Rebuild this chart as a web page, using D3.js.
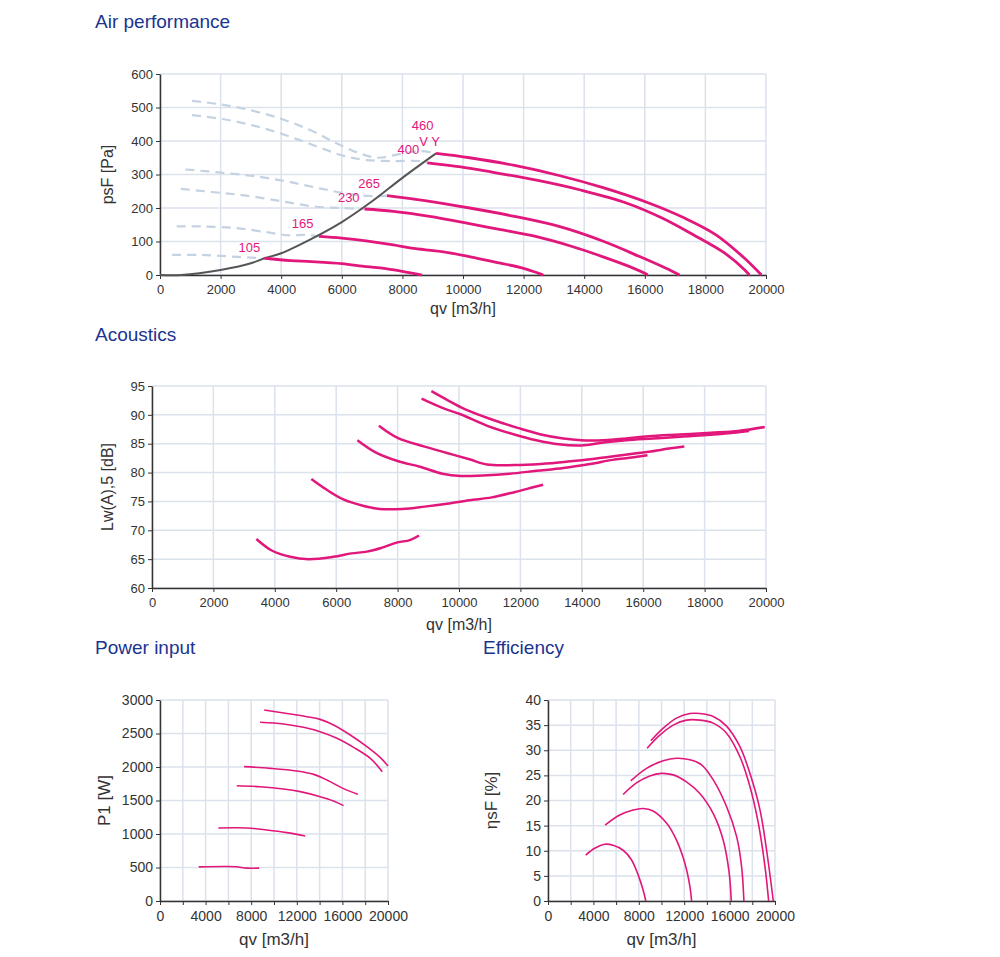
<!DOCTYPE html>
<html>
<head>
<meta charset="utf-8">
<script src="https://cdn.jsdelivr.net/npm/d3@7"></script>
<style>
  body { margin: 0; background: #fff; }
  svg { display: block; font-family: "Liberation Sans", Arial, sans-serif; }
</style>
</head>
<body>
<svg id="chart" width="1000" height="957"></svg>
<script>
// ---- data (qv in m3/h) ----
var speeds = ["105", "165", "230", "265", "400", "460"];

// air performance: psF [Pa] vs qv
var airCurves = [
  [[3450,50],[4300,43],[5000,40],[6000,34],[6800,25],[7400,20],[8000,11],[8650,0]],
  [[5250,115],[6000,110],[6800,102],[7700,90],[8300,80],[9300,70],[10200,55],[11200,36],[12000,20],[12500,5],[12650,0]],
  [[6750,197],[7700,190],[8900,175],[10000,157],[11200,136],[12400,115],[13600,85],[14600,55],[15500,25],[16000,5],[16100,0]],
  [[7490,237],[8740,222],[10220,200],[11700,175],[13170,145],[14650,100],[15830,55],[16700,20],[17150,0]],
  [[8820,335],[9920,323],[10960,307],[12430,283],[13910,253],[15390,215],[16570,170],[17600,120],[18640,65],[19300,15],[19450,0]],
  [[9110,363],[10220,350],[11700,327],[13170,297],[14650,260],[16130,215],[17310,170],[18350,120],[19230,55],[19850,0]]
];
// unstable region (dashed)
var airDashed = [
  [[400,60],[1360,60],[2390,55],[3450,50]],
  [[550,145],[1360,145],[2540,140],[3570,127],[4310,118],[4760,120],[5250,115]],
  [[690,257],[1800,247],[2840,237],[4020,220],[5050,205],[5940,200],[6750,197]],
  [[840,315],[2100,305],[3280,293],[4310,277],[5350,257],[6380,240],[7120,235],[7490,237]],
  [[1060,477],[2100,465],[3130,445],[4160,417],[5200,383],[6090,355],[6820,343],[7710,340],[8600,340],[8820,335]],
  [[1060,520],[1950,510],[2840,495],[3870,470],[4900,435],[5790,395],[6530,365],[7190,350],[7860,360],[8600,370],[9110,363]]
];
// system curve
var systemCurve = [[0,0],[700,0],[2000,15],[3000,35],[3450,50],[4000,65],[5000,108],[6000,158],[7000,220],[8000,290],[9110,363]];
// labels on air chart [text, qv, psF]
var airLabels = [["105",2950,70],["165",4710,140],["230",6230,218],["265",6900,260],["400",8200,360],["460",8670,432],["V Y",8900,386]];

// acoustics: Lw(A),5 [dB]
var soundCurves = [
  [[3400,68.5],[3900,66.5],[4500,65.4],[5100,65.0],[5900,65.4],[6500,66.0],[7000,66.3],[7500,67.0],[8000,67.9],[8400,68.3],[8700,69.1]],
  [[5190,78.9],[5670,77.1],[6250,75.3],[6840,74.3],[7420,73.7],[8150,73.7],[8880,74.1],[9610,74.6],[10340,75.2],[11070,75.7],[11800,76.6],[12380,77.4],[12740,77.9]],
  [[6690,85.6],[7280,83.5],[8000,82.0],[8730,81.0],[9460,79.8],[10050,79.4],[10770,79.5],[11650,79.8],[12520,80.3],[13400,80.8],[14270,81.5],[15000,82.2],[15440,82.5],[16140,83.0]],
  [[7390,88.1],[8000,86.0],[8880,84.5],[9610,83.4],[10340,82.3],[10920,81.4],[11800,81.3],[12670,81.5],[13540,81.9],[14420,82.4],[15290,83.0],[16170,83.6],[16900,84.2],[17340,84.5]],
  [[8780,92.8],[9460,91.2],[10050,90.1],[10920,88.1],[11800,86.6],[12520,85.6],[13250,84.9],[13980,84.7],[14710,85.2],[15440,85.6],[16320,85.9],[17190,86.2],[18070,86.5],[18940,86.9],[19450,87.2]],
  [[9100,94.1],[9610,92.6],[10190,91.0],[11070,89.2],[11940,87.7],[12670,86.6],[13400,85.9],[13980,85.6],[14710,85.6],[15440,85.9],[16170,86.3],[17190,86.6],[18210,86.9],[19090,87.2],[19960,87.9]]
];

// power input: P1 [W]
var powerCurves = [
  [[3400,510],[5500,515],[6700,512],[7600,490],[8700,490]],
  [[5120,1090],[7610,1090],[9370,1060],[11130,1020],[12740,970]],
  [[6730,1721],[8780,1706],[10830,1672],[12300,1632],[14050,1557],[15220,1493],[16100,1423]],
  [[7380,2005],[9660,1980],[12000,1940],[13470,1890],[14640,1806],[16100,1677],[17360,1592]],
  [[8780,2667],[10830,2642],[12590,2592],[14050,2527],[15520,2428],[16980,2293],[18450,2129],[19500,1930]],
  [[9140,2851],[11420,2791],[12880,2751],[14050,2711],[15220,2627],[16690,2478],[18150,2303],[19330,2139],[20000,2015]]
];

// efficiency: etasF [%]
var effCurves = [
  [[3320,9.15],[4120,10.5],[5000,11.3],[5740,11.1],[6620,10.1],[7350,8.2],[7940,5.2],[8380,2.2],[8620,0]],
  [[5030,15.1],[6320,17.1],[7500,18.1],[8380,18.4],[9260,17.9],[10440,15.5],[11320,12.1],[12060,7.5],[12500,2.9],[12650,0]],
  [[6620,21.2],[7790,23.5],[8970,24.9],[10000,25.4],[11030,25.1],[12200,23.7],[13380,21.4],[14560,17.4],[15440,12.1],[15950,5.8],[16150,0]],
  [[7290,23.9],[8680,26.4],[10150,27.9],[11320,28.4],[12500,28.1],[13530,27.1],[14560,24.1],[15730,18.8],[16620,12.8],[17060,6.8],[17260,0]],
  [[8730,30.4],[9850,33.0],[11030,35.0],[12200,36.0],[13380,36.0],[14560,35.4],[15730,33.4],[16910,28.7],[17790,22.8],[18530,15.5],[19120,6.8],[19440,0]],
  [[9060,31.9],[10150,34.4],[11320,36.4],[12500,37.3],[13380,37.3],[14560,36.7],[15730,34.8],[16910,30.7],[17790,25.4],[18680,18.1],[19260,10.1],[19850,0]]
];

var pink = "#e1177b",
    gridColor = "#dbe2ec",
    navy = "#1a3490";

var svg = d3.select("#chart");

// section titles
var titles = [["Air performance",95,28],["Acoustics",95,341],["Power input",95,654],["Efficiency",483,654]];
svg.selectAll("text.sectionTitle")
  .data(titles)
  .enter()
  .append("text")
  .attr("class","sectionTitle")
  .attr("x",function(d){ return d[1]; })
  .attr("y",function(d){ return d[2]; })
  .attr("fill",navy)
  .style("font-size","19px")
  .text(function(d){ return d[0]; });

function panel(o) {
  var x = d3.scaleLinear().domain([0,20000]).range([o.left,o.right]);
  var y = d3.scaleLinear().domain(o.yDomain).range([o.bottom,o.top]);
  var g = svg.append("g");

  var xt = d3.range(0,20001,2000);
  var yt = d3.range(o.yDomain[0],o.yDomain[1]+0.001,o.yStep);

  // grid
  g.selectAll("line.vg").data(xt).enter().append("line")
    .attr("x1",x).attr("x2",x).attr("y1",o.top).attr("y2",o.bottom)
    .attr("stroke",gridColor).attr("stroke-width",1.5);
  g.selectAll("line.hg").data(yt).enter().append("line")
    .attr("x1",o.left).attr("x2",o.right).attr("y1",y).attr("y2",y)
    .attr("stroke",gridColor).attr("stroke-width",1.5);

  // axes
  var xAxis = d3.axisBottom(x).tickValues(xt).tickSize(4).tickSizeOuter(0)
    .tickFormat(function(d){ return (d % o.xLabelStep === 0) ? d : ""; });
  var yAxis = d3.axisLeft(y).tickValues(yt).tickSize(4).tickSizeOuter(0).tickFormat(d3.format("d"));
  var gx = g.append("g").attr("transform","translate(0,"+o.bottom+")").call(xAxis);
  var gy = g.append("g").attr("transform","translate("+o.left+",0)").call(yAxis);
  [gx,gy].forEach(function(a){
    a.select(".domain").attr("stroke","#333").attr("stroke-width",1.5);
    a.selectAll(".tick line").attr("stroke","#333");
    a.selectAll(".tick text").attr("fill","#333")
      .style("font-family","'Liberation Sans', Arial, sans-serif")
      .style("font-size",o.tickFont+"px");
  });
  gx.selectAll(".tick text").attr("dy","0.95em");

  // axis titles
  g.append("text")
    .attr("x",(o.left+o.right)/2).attr("y",o.bottom+o.xTitleOff)
    .attr("text-anchor","middle").attr("fill","#333")
    .style("font-size",o.titleFont+"px").text("qv [m3/h]");
  g.append("text")
    .attr("transform","translate("+o.yTitleX+","+((o.top+o.bottom)/2)+") rotate(-90)")
    .attr("text-anchor","middle").attr("fill","#333")
    .style("font-size",o.titleFont+"px").text(o.yTitle);

  var line = d3.line()
    .x(function(d){ return x(d[0]); })
    .y(function(d){ return y(d[1]); })
    .curve(d3.curveCatmullRom.alpha(0.5));

  return {g:g, x:x, y:y, line:line};
}

// ---- Air performance ----
var air = panel({left:160,right:766,top:74,bottom:275,yDomain:[0,600],yStep:100,xLabelStep:2000,
  tickFont:13,titleFont:16,xTitleOff:39,yTitleX:113,yTitle:"psF [Pa]"});
air.g.selectAll("path.dash").data(airDashed).enter().append("path")
  .attr("d",air.line).attr("fill","none")
  .attr("stroke","#c5d2e2").attr("stroke-width",2.2).attr("stroke-dasharray","9,6");
air.g.append("path").datum(systemCurve)
  .attr("d",air.line)
  .attr("fill","none").attr("stroke","#555").attr("stroke-width",2);
air.g.selectAll("path.speed").data(airCurves).enter().append("path")
  .attr("d",air.line).attr("fill","none")
  .attr("stroke",pink).attr("stroke-width",2.8);
air.g.selectAll("text.lbl").data(airLabels).enter().append("text")
  .attr("x",function(d){ return air.x(d[1]); })
  .attr("y",function(d){ return air.y(d[2]); })
  .attr("text-anchor","middle").attr("fill",pink)
  .style("font-size","13px")
  .text(function(d){ return d[0]; });

// ---- Acoustics ----
var ac = panel({left:152,right:766,top:386,bottom:588,yDomain:[60,95],yStep:5,xLabelStep:2000,
  tickFont:13,titleFont:16,xTitleOff:42,yTitleX:113,yTitle:"Lw(A),5 [dB]"});
ac.g.selectAll("path.speed").data(soundCurves).enter().append("path")
  .attr("d",ac.line).attr("fill","none")
  .attr("stroke",pink).attr("stroke-width",2.5);

// ---- Power input ----
var pw = panel({left:160,right:388,top:700,bottom:901,yDomain:[0,3000],yStep:500,xLabelStep:4000,
  tickFont:14,titleFont:17,xTitleOff:44,yTitleX:110,yTitle:"P1 [W]"});
pw.g.selectAll("path.speed").data(powerCurves).enter().append("path")
  .attr("d",pw.line).attr("fill","none")
  .attr("stroke",pink).attr("stroke-width",1.6);

// ---- Efficiency ----
var ef = panel({left:548,right:775,top:700,bottom:901,yDomain:[0,40],yStep:5,xLabelStep:4000,
  tickFont:14,titleFont:17,xTitleOff:44,yTitleX:497,yTitle:"ηsF [%]"});
ef.g.selectAll("path.speed").data(effCurves).enter().append("path")
  .attr("d",ef.line).attr("fill","none")
  .attr("stroke",pink).attr("stroke-width",1.6);
</script>
</body>
</html>
